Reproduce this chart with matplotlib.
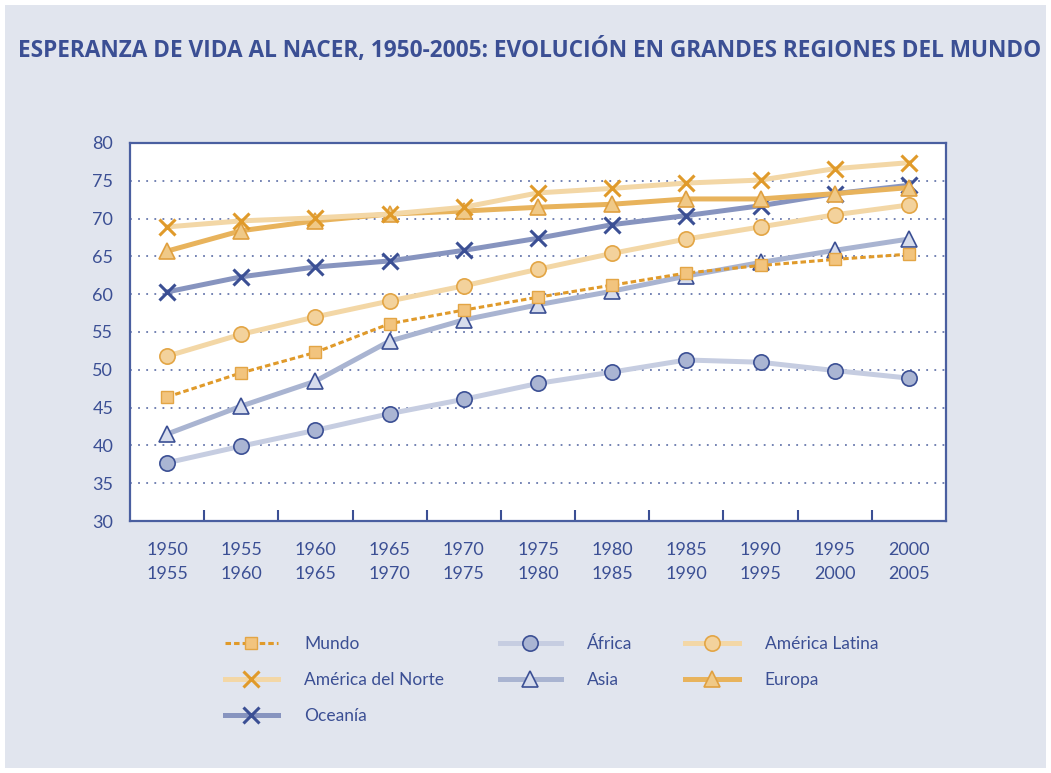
import matplotlib
matplotlib.use("Agg")
import matplotlib.pyplot as plt
from matplotlib.patches import Rectangle
from matplotlib.ticker import FixedLocator, NullFormatter

plt.rcParams['font.family'] = ['Lato', 'DejaVu Sans']

periodos = ["1950\n1955", "1955\n1960", "1960\n1965", "1965\n1970", "1970\n1975",
            "1975\n1980", "1980\n1985", "1985\n1990", "1990\n1995", "1995\n2000",
            "2000\n2005"]

mundo = [46.4, 49.6, 52.3, 56.1, 57.9, 59.6, 61.2, 62.8, 63.8, 64.6, 65.3]
africa = [37.7, 39.9, 42.0, 44.2, 46.1, 48.2, 49.7, 51.3, 51.0, 49.9, 48.9]
america_latina = [51.8, 54.7, 57.0, 59.1, 61.1, 63.3, 65.4, 67.3, 68.9, 70.5, 71.8]
america_norte = [68.9, 69.7, 70.1, 70.6, 71.5, 73.4, 74.0, 74.7, 75.1, 76.6, 77.4]
asia = [41.5, 45.2, 48.5, 53.8, 56.6, 58.6, 60.4, 62.4, 64.2, 65.8, 67.3]
europa = [65.7, 68.4, 69.7, 70.6, 71.0, 71.5, 71.9, 72.6, 72.6, 73.3, 74.1]
oceania = [60.3, 62.3, 63.6, 64.4, 65.8, 67.4, 69.2, 70.4, 71.7, 73.3, 74.4]

titulo = "ESPERANZA DE VIDA AL NACER, 1950-2005: EVOLUCIÓN EN GRANDES REGIONES DEL MUNDO"

azul = "#3b4f94"
fondo = "#e1e5ee"

fig = plt.figure(figsize=(10.51, 7.73), dpi=100, facecolor="white")
fig.patches.append(Rectangle((5 / 1051, 5 / 773), 1041 / 1051, 763 / 773,
                             transform=fig.transFigure, facecolor=fondo,
                             edgecolor="none", zorder=-10))

ax = fig.add_axes([130 / 1051, 252 / 773, 816 / 1051, 378 / 773])
ax.set_facecolor("white")
x = list(range(len(periodos)))

l_africa, = ax.plot(x, africa, color="#c6cde1", lw=3.6, marker="o", ms=11,
                    mfc="#aab5d3", mec=azul, mew=1.2, label="África")
l_asia, = ax.plot(x, asia, color="#a9b4d1", lw=3.6, marker="^", ms=11,
                  mfc="#d6dcec", mec=azul, mew=1.2, label="Asia")
l_lat, = ax.plot(x, america_latina, color="#f3d7a6", lw=3.6, marker="o", ms=11,
                 mfc="#f3d29c", mec="#e3a545", mew=1.2, label="América Latina")
l_oce, = ax.plot(x, oceania, color="#8794bf", lw=3.6, marker="x", ms=11,
                 mec=azul, mew=2.2, label="Oceanía")
l_eur, = ax.plot(x, europa, color="#e8b35c", lw=3.6, marker="^", ms=11,
                 mfc="#f0c987", mec="#e0a040", mew=1.2, label="Europa")
l_nor, = ax.plot(x, america_norte, color="#f3d7a6", lw=3.6, marker="x", ms=11,
                 mec="#e09a2a", mew=2.2, label="América del Norte")
l_mun, = ax.plot(x, mundo, color="#e09a2a", lw=2.2, dashes=(1.8, 1.0),
                 marker="s", ms=9, mfc="#f2c47e", mec="#e3a545", mew=1.0,
                 label="Mundo")

ax.set_xlim(-0.5, len(periodos) - 0.5)
ax.set_ylim(30, 80)
ax.set_yticks(range(30, 81, 5))
ax.set_xticks(x)
ax.set_xticklabels(periodos, fontsize=13, color=azul, linespacing=1.6)
ax.xaxis.set_minor_locator(FixedLocator([i + 0.5 for i in x[:-1]]))
ax.xaxis.set_minor_formatter(NullFormatter())
ax.tick_params(axis="x", which="major", length=0, pad=15)
ax.tick_params(axis="x", which="minor", direction="in", length=8, width=1.5,
               color=azul)
ax.tick_params(axis="y", length=0, pad=12, labelsize=13, labelcolor=azul)

for v in range(35, 80, 5):
    ax.axhline(v, color="#6878ad", lw=1.3, ls=(0, (1, 3.5)), zorder=0)

for s in ax.spines.values():
    s.set_color("#4a5fa0")
    s.set_linewidth(1.6)

# three legend columns placed where the reference has them
columnas = [(225, 3.05, [l_mun, l_nor, l_oce]),
            (500, 3.5, [l_africa, l_asia]),
            (685, 3.1, [l_lat, l_eur])]
for x0, hl, hs in columnas:
    leg = fig.legend(handles=hs, labels=[h.get_label() for h in hs],
                     loc="upper left", bbox_to_anchor=(x0 / 1051, 1 - 636 / 773),
                     frameon=False, fontsize=12.5, labelcolor=azul,
                     handlelength=hl, handletextpad=1.5, labelspacing=1.15,
                     borderpad=0, borderaxespad=0)

t = fig.text(18 / 1051, 1 - 50 / 773, titulo, fontsize=13, fontweight="bold",
             family=["Open Sans", "DejaVu Sans"], color=azul,
             va="center", ha="left")
fig.canvas.draw()
w = t.get_window_extent(fig.canvas.get_renderer()).width
t.set_fontsize(13 * 1022 / w)

fig.savefig("out.png", dpi=100, facecolor=fig.get_facecolor())
